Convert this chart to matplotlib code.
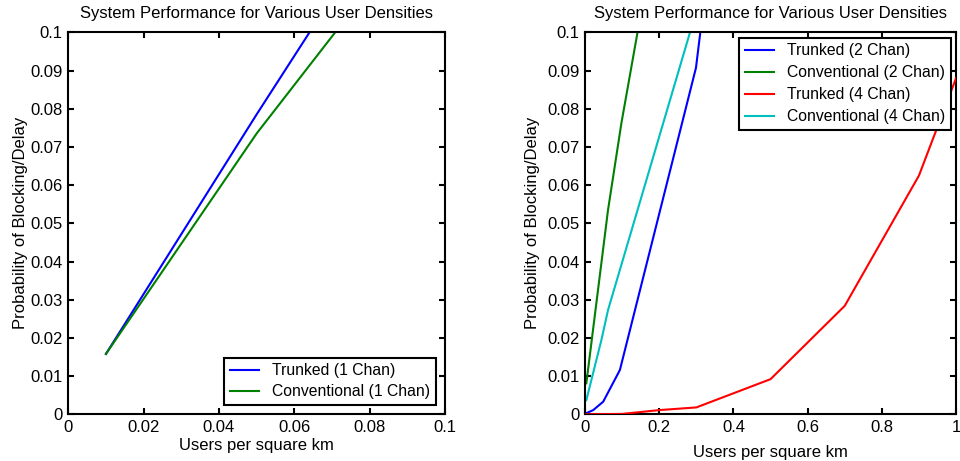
import matplotlib
matplotlib.use("Agg")
import matplotlib.pyplot as plt

plt.rcParams['font.family'] = ['Liberation Sans', 'DejaVu Sans']
plt.rcParams['font.size'] = 12

title = "System Performance for Various User Densities"
xlabel = "Users per square km"
ylabel = "Probability of Blocking/Delay"

# left panel: 1 channel
x1 = [0.01, 0.05, 0.1]
trunk1 = [0.0158, 0.0785, 0.155]
conv1 = [0.0158, 0.0735, 0.137]

# right panel: 2 and 4 channels
x_t2 = [0.0035, 0.022, 0.049, 0.094, 0.299, 0.5]
trunk2 = [0.0003, 0.0011, 0.0033, 0.0116, 0.0907, 0.25]
x_c2 = [0.0035, 0.062, 0.098, 0.2]
conv2 = [0.0081, 0.0535, 0.0762, 0.132]
x_t4 = [0.0035, 0.1, 0.2, 0.3, 0.5, 0.7, 0.9, 1.0]
trunk4 = [0.0, 0.0001, 0.0011, 0.0018, 0.0092, 0.0284, 0.0625, 0.088]
x_c4 = [0.0035, 0.044, 0.062, 0.3]
conv4 = [0.0037, 0.0194, 0.0273, 0.1056]

blue = (0, 0, 1)
green = (0, 0.5, 0)
red = (1, 0, 0)
cyan = (0, 0.75, 0.75)

fig = plt.figure(figsize=(9.6, 4.61), dpi=100)
ax1 = fig.add_axes([0.0711, 0.1013, 0.3924, 0.8286])
ax2 = fig.add_axes([0.6094, 0.1013, 0.3865, 0.8286])

ax1.plot(x1, trunk1, color=blue, lw=1.5, label="Trunked (1 Chan)")
ax1.plot(x1, conv1, color=green, lw=1.5, label="Conventional (1 Chan)")
ax1.set_xlim(0, 0.1)
ax1.set_xticks([0, 0.02, 0.04, 0.06, 0.08, 0.1])
ax1.set_xticklabels(["0", "0.02", "0.04", "0.06", "0.08", "0.1"])

ax2.plot(x_t2, trunk2, color=blue, lw=1.5, label="Trunked (2 Chan)")
ax2.plot(x_c2, conv2, color=green, lw=1.5, label="Conventional (2 Chan)")
ax2.plot(x_t4, trunk4, color=red, lw=1.5, label="Trunked (4 Chan)", zorder=3)
ax2.plot(x_c4, conv4, color=cyan, lw=1.5, label="Conventional (4 Chan)")
ax2.set_xlim(0, 1)
ax2.set_xticks([0, 0.2, 0.4, 0.6, 0.8, 1])
ax2.set_xticklabels(["0", "0.2", "0.4", "0.6", "0.8", "1"])

for ax in (ax1, ax2):
    ax.set_ylim(0, 0.1)
    ax.set_yticks([0, 0.01, 0.02, 0.03, 0.04, 0.05, 0.06, 0.07, 0.08, 0.09, 0.1])
    ax.set_yticklabels(["0", "0.01", "0.02", "0.03", "0.04", "0.05", "0.06",
                        "0.07", "0.08", "0.09", "0.1"])
    ax.tick_params(direction='in', length=4, width=1.5, top=True, right=True,
                   pad=4, labelsize=12)
    for s in ax.spines.values():
        s.set_linewidth(1.5)
    ax.set_title(title, fontsize=12, pad=10)

ax1.set_ylabel(ylabel, fontsize=12, labelpad=2)
ax2.set_ylabel(ylabel, fontsize=12, labelpad=5)
ax1.set_xlabel(xlabel, fontsize=12, labelpad=2)
ax2.set_xlabel(xlabel, fontsize=12, labelpad=7)

leg1 = ax1.legend(loc='lower right', fancybox=False, edgecolor='black',
                  fontsize=11.3, handlelength=1.9, borderaxespad=0.6,
                  borderpad=0.35, labelspacing=0.4, framealpha=1)
leg1.get_frame().set_linewidth(1.5)
leg2 = ax2.legend(loc='upper right', fancybox=False, edgecolor='black',
                  fontsize=11.3, handlelength=1.9, borderaxespad=0.35,
                  borderpad=0.35, labelspacing=0.45, framealpha=1)
leg2.get_frame().set_linewidth(1.5)

fig.savefig("out.png", dpi=100)
